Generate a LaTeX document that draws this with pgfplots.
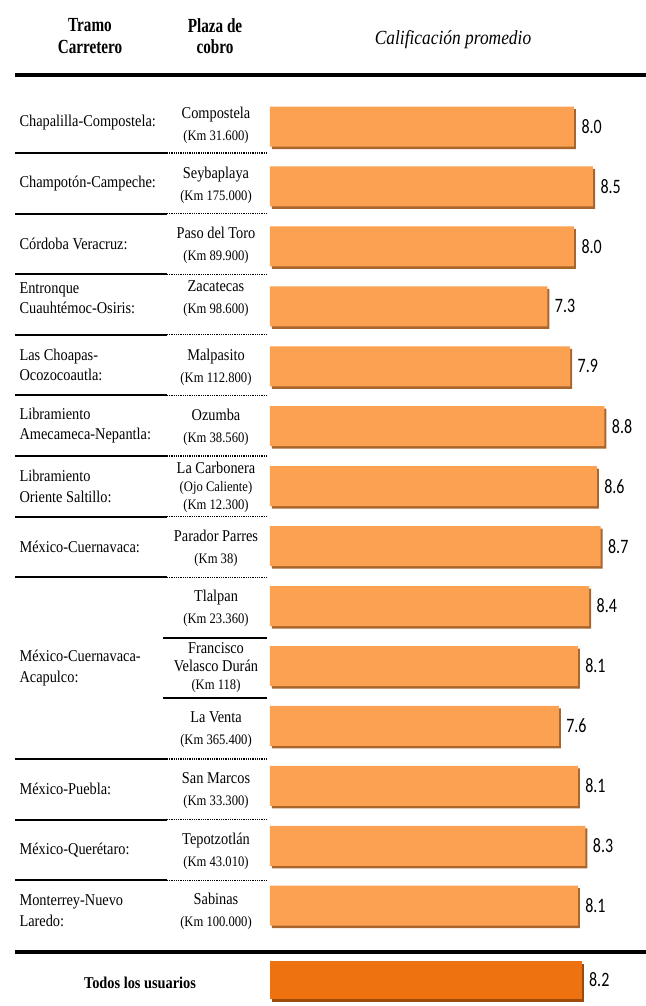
\documentclass[border=0pt]{standalone}
\usepackage{fontspec}
\setmainfont{Liberation Serif}[FakeStretch=0.87]
\newfontfamily\hdfont{Liberation Serif}[FakeStretch=0.76]
\newfontfamily\numfont{Carlito}[FakeStretch=0.78]
\usepackage{pgfplots}
\usepackage{pgfplotstable}
\pgfplotsset{compat=1.18}
\usetikzlibrary{shadows}

\definecolor{barfill}{HTML}{FBA151}
\definecolor{barshade}{HTML}{A9662C}
\definecolor{totfill}{HTML}{EE720F}
\definecolor{totshade}{HTML}{9C4B0A}

% row position (px from top), average rating
\pgfplotstableread{
pos val
126.5 8.0
186.4 8.5
246.4 8.0
306.3 7.3
366.3 7.9
426.2 8.8
486.1 8.6
546.1 8.7
606.0 8.4
666.0 8.1
725.9 7.6
785.8 8.1
845.8 8.3
905.7 8.1
}\plazas
\pgfplotstableread{
pos val
980 8.2
}\total

\newcommand{\km}[1]{{\fontsize{14.5bp}{22bp}\selectfont #1}}

\begin{document}
\begin{tikzpicture}
\useasboundingbox (0,0) rectangle (646bp,1006bp);
\begin{axis}[
    at={(0,0)}, anchor=south west,
    scale only axis, width=646bp, height=1006bp,
    xmin=-7.105, xmax=9.895, ymin=0, ymax=1006,
    y dir=reverse, hide axis, clip=false,
    xbar, bar width=40, bar shift=0,
    nodes near coords={\pgfmathprintnumber[fixed,fixed zerofill,precision=1]{\pgfplotspointmeta}},
    /pgf/number format/assume math mode=true,
    every node near coord/.append style={font=\numfont\fontsize{20.5bp}{22bp}\selectfont, text=black, xshift=4bp},
]
\addplot[fill=barfill, draw=none, bar shift=0,
    drop shadow={shadow xshift=2bp, shadow yshift=-2.5bp, fill=barshade, opacity=1}]
    table[x=val, y=pos] {\plazas};
\addplot[fill=totfill, draw=none, bar shift=0, bar width=38,
    drop shadow={shadow xshift=2bp, shadow yshift=-2.5bp, fill=totshade, opacity=1}]
    table[x=val, y=pos] {\total};
\end{axis}

\begin{scope}[x=1bp, y=-1bp, shift={(0,1006bp)}]
% header
\node[align=center, font=\hdfont\bfseries\fontsize{20bp}{21.5bp}\selectfont] at (90,36) {Tramo\\Carretero};
\node[align=center, font=\hdfont\bfseries\fontsize{20bp}{21.5bp}\selectfont] at (215,36) {Plaza de\\cobro};
\node[font=\itshape\fontsize{20bp}{22bp}\selectfont] at (453,40) {Calificación promedio};
\draw[line width=4.7bp] (15,75) -- (646,75);
\draw[line width=4.7bp] (15,952) -- (646,952);

% row separators
\foreach \s in {153,213.6,274.2,334.8,395.4,456,516.6,577.2,759,819.6,880.2} {
  \draw[line width=2bp] (15,\s) -- (167,\s);
  \draw[line width=1.3bp, dash pattern=on 1bp off 0.8bp] (167,\s) -- (267,\s);
}
\foreach \s in {637.8,698.4}
  \draw[line width=2bp] (163,\s) -- (267,\s);

% first column
\begin{scope}[every node/.style={anchor=west, align=left, font=\fontsize{16.5bp}{20.5bp}\selectfont}]
\node at (16,122.7) {Chapalilla-Compostela:};
\node at (16,183.3) {Champotón-Campeche:};
\node at (16,243.9) {Córdoba Veracruz:};
\node at (16,298) {Entronque\\Cuauhtémoc-Osiris:};
\node at (16,365.1) {Las Choapas-\\Ocozocoautla:};
\node at (16,425.7) {Libramiento\\Amecameca-Nepantla:};
\node at (16,486.3) {Libramiento\\Oriente Saltillo:};
\node at (16,546.9) {México-Cuernavaca:};
\node at (16,668) {México-Cuernavaca-\\Acapulco:};
\node at (16,789.3) {México-Puebla:};
\node at (16,849.9) {México-Querétaro:};
\node at (16,910.5) {Monterrey-Nuevo\\Laredo:};
\end{scope}

% second column
\begin{scope}[every node/.style={align=center, font=\fontsize{16.5bp}{22bp}\selectfont}]
\node at (216,125) {Compostela\\\km{(Km 31.600)}};
\node at (216,185) {Seybaplaya\\\km{(Km 175.000)}};
\node at (216,245.5) {Paso del Toro\\\km{(Km 89.900)}};
\node at (216,299) {Zacatecas\\\km{(Km 98.600)}};
\node at (216,367) {Malpasito\\\km{(Km 112.800)}};
\node at (216,427) {Ozumba\\\km{(Km 38.560)}};
\node[font=\fontsize{16.5bp}{18bp}\selectfont] at (216,487) {La Carbonera\\\km{(Ojo Caliente)}\\\km{(Km 12.300)}};
\node at (216,548) {Parador Parres\\\km{(Km 38)}};
\node at (216,608.5) {Tlalpan\\\km{(Km 23.360)}};
\node[font=\fontsize{16.5bp}{18bp}\selectfont] at (216,668) {Francisco\\Velasco Durán\\\km{(Km 118)}};
\node at (216,730) {La Venta\\\km{(Km 365.400)}};
\node at (216,790.5) {San Marcos\\\km{(Km 33.300)}};
\node at (216,851) {Tepotzotlán\\\km{(Km 43.010)}};
\node at (216,911.5) {Sabinas\\\km{(Km 100.000)}};
\end{scope}

\node[font=\bfseries\fontsize{16.5bp}{20bp}\selectfont] at (140,983) {Todos los usuarios};
\end{scope}
\end{tikzpicture}
\end{document}
